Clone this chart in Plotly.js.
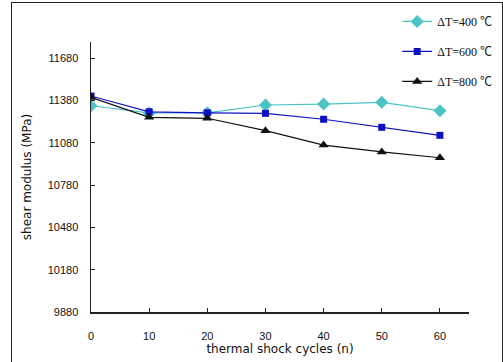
<!DOCTYPE html>
<html><head><meta charset="utf-8">
<script src="https://cdn.plot.ly/plotly-3.0.1.min.js"></script>
<style>html,body{margin:0;padding:0;background:#fff}#c{width:503px;height:362px}
#frame{position:absolute;left:11px;top:2px;width:490px;height:370px;border:1.5px solid #222;pointer-events:none}</style>
</head><body><div id="c"></div><div id="frame"></div>
<script>
const cycles = [0, 10, 20, 30, 40, 50, 60];
const dT400 = [11343, 11292, 11293, 11348, 11355, 11367, 11308];
const dT600 = [11412, 11300, 11293, 11289, 11247, 11190, 11133];
const dT800 = [11403, 11261, 11254, 11166, 11064, 11015, 10974];
const seriesNames = ['\u0394T=400 \u2103', '\u0394T=600 \u2103', '\u0394T=800 \u2103'];
const yTicks = [9880, 10180, 10480, 10780, 11080, 11380, 11680];
const xTicks = [0, 10, 20, 30, 40, 50, 60];

const traces = [
  {x: cycles, y: dT400, name: seriesNames[0], legendgroup: 'a', mode: 'lines+markers',
   line: {color: '#4cc4c4', width: 1.2}, marker: {symbol: 'diamond', size: 10, color: '#4cc4c4'}},
  {x: cycles, y: dT600, name: seriesNames[1], legendgroup: 'b', mode: 'lines+markers',
   line: {color: '#1010c0', width: 1.2}, marker: {symbol: 'square', size: 7, color: '#1010c0'}},
  {x: cycles, y: dT800, name: seriesNames[2], legendgroup: 'c', mode: 'lines+markers',
   line: {color: '#111111', width: 1.2}, marker: {symbol: 'triangle-up', size: 9, color: '#111111'}}
];

const layout = {
  width: 503, height: 362,
  margin: {l: 91, r: 34, t: 42, b: 50, autoexpand: false},
  paper_bgcolor: '#ffffff', plot_bgcolor: '#ffffff',
  showlegend: true,
  legend: {x: 0.81, xanchor: 'left', y: 1.13, yanchor: 'top', tracegroupgap: 11,
           borderwidth: 0, bordercolor: '#ffffff', bgcolor: '#ffffff',
           font: {family: 'Liberation Serif, Noto Sans CJK SC', size: 12, color: '#111'}},
  xaxis: {range: [0, 65], tickvals: xTicks, ticktext: xTicks.map(String), automargin: false,
          showline: true, linecolor: '#222', linewidth: 1.5, showgrid: false, zeroline: false,
          ticks: 'inside', ticklen: 4, tickcolor: '#222', ticklabelstandoff: 13,
          tickfont: {family: 'Liberation Sans, DejaVu Sans', size: 11, color: '#111'},
          title: {text: 'thermal shock cycles (n)', standoff: 3,
                  font: {family: 'DejaVu Sans', size: 12, color: '#111'}}},
  yaxis: {range: [9880, 11795], tickvals: yTicks, ticktext: yTicks.map(String), automargin: false,
          showline: true, linecolor: '#222', linewidth: 1.5, showgrid: false, zeroline: false,
          ticks: 'inside', ticklen: 4, tickcolor: '#222', ticklabelstandoff: 9,
          tickfont: {family: 'Liberation Sans, DejaVu Sans', size: 11, color: '#111'},
          title: {text: 'shear modulus (MPa)', standoff: 13,
                  font: {family: 'DejaVu Sans', size: 12, color: '#111'}}}
};
Plotly.newPlot('c', traces, layout, {staticPlot: true, displayModeBar: false});
</script></body></html>
